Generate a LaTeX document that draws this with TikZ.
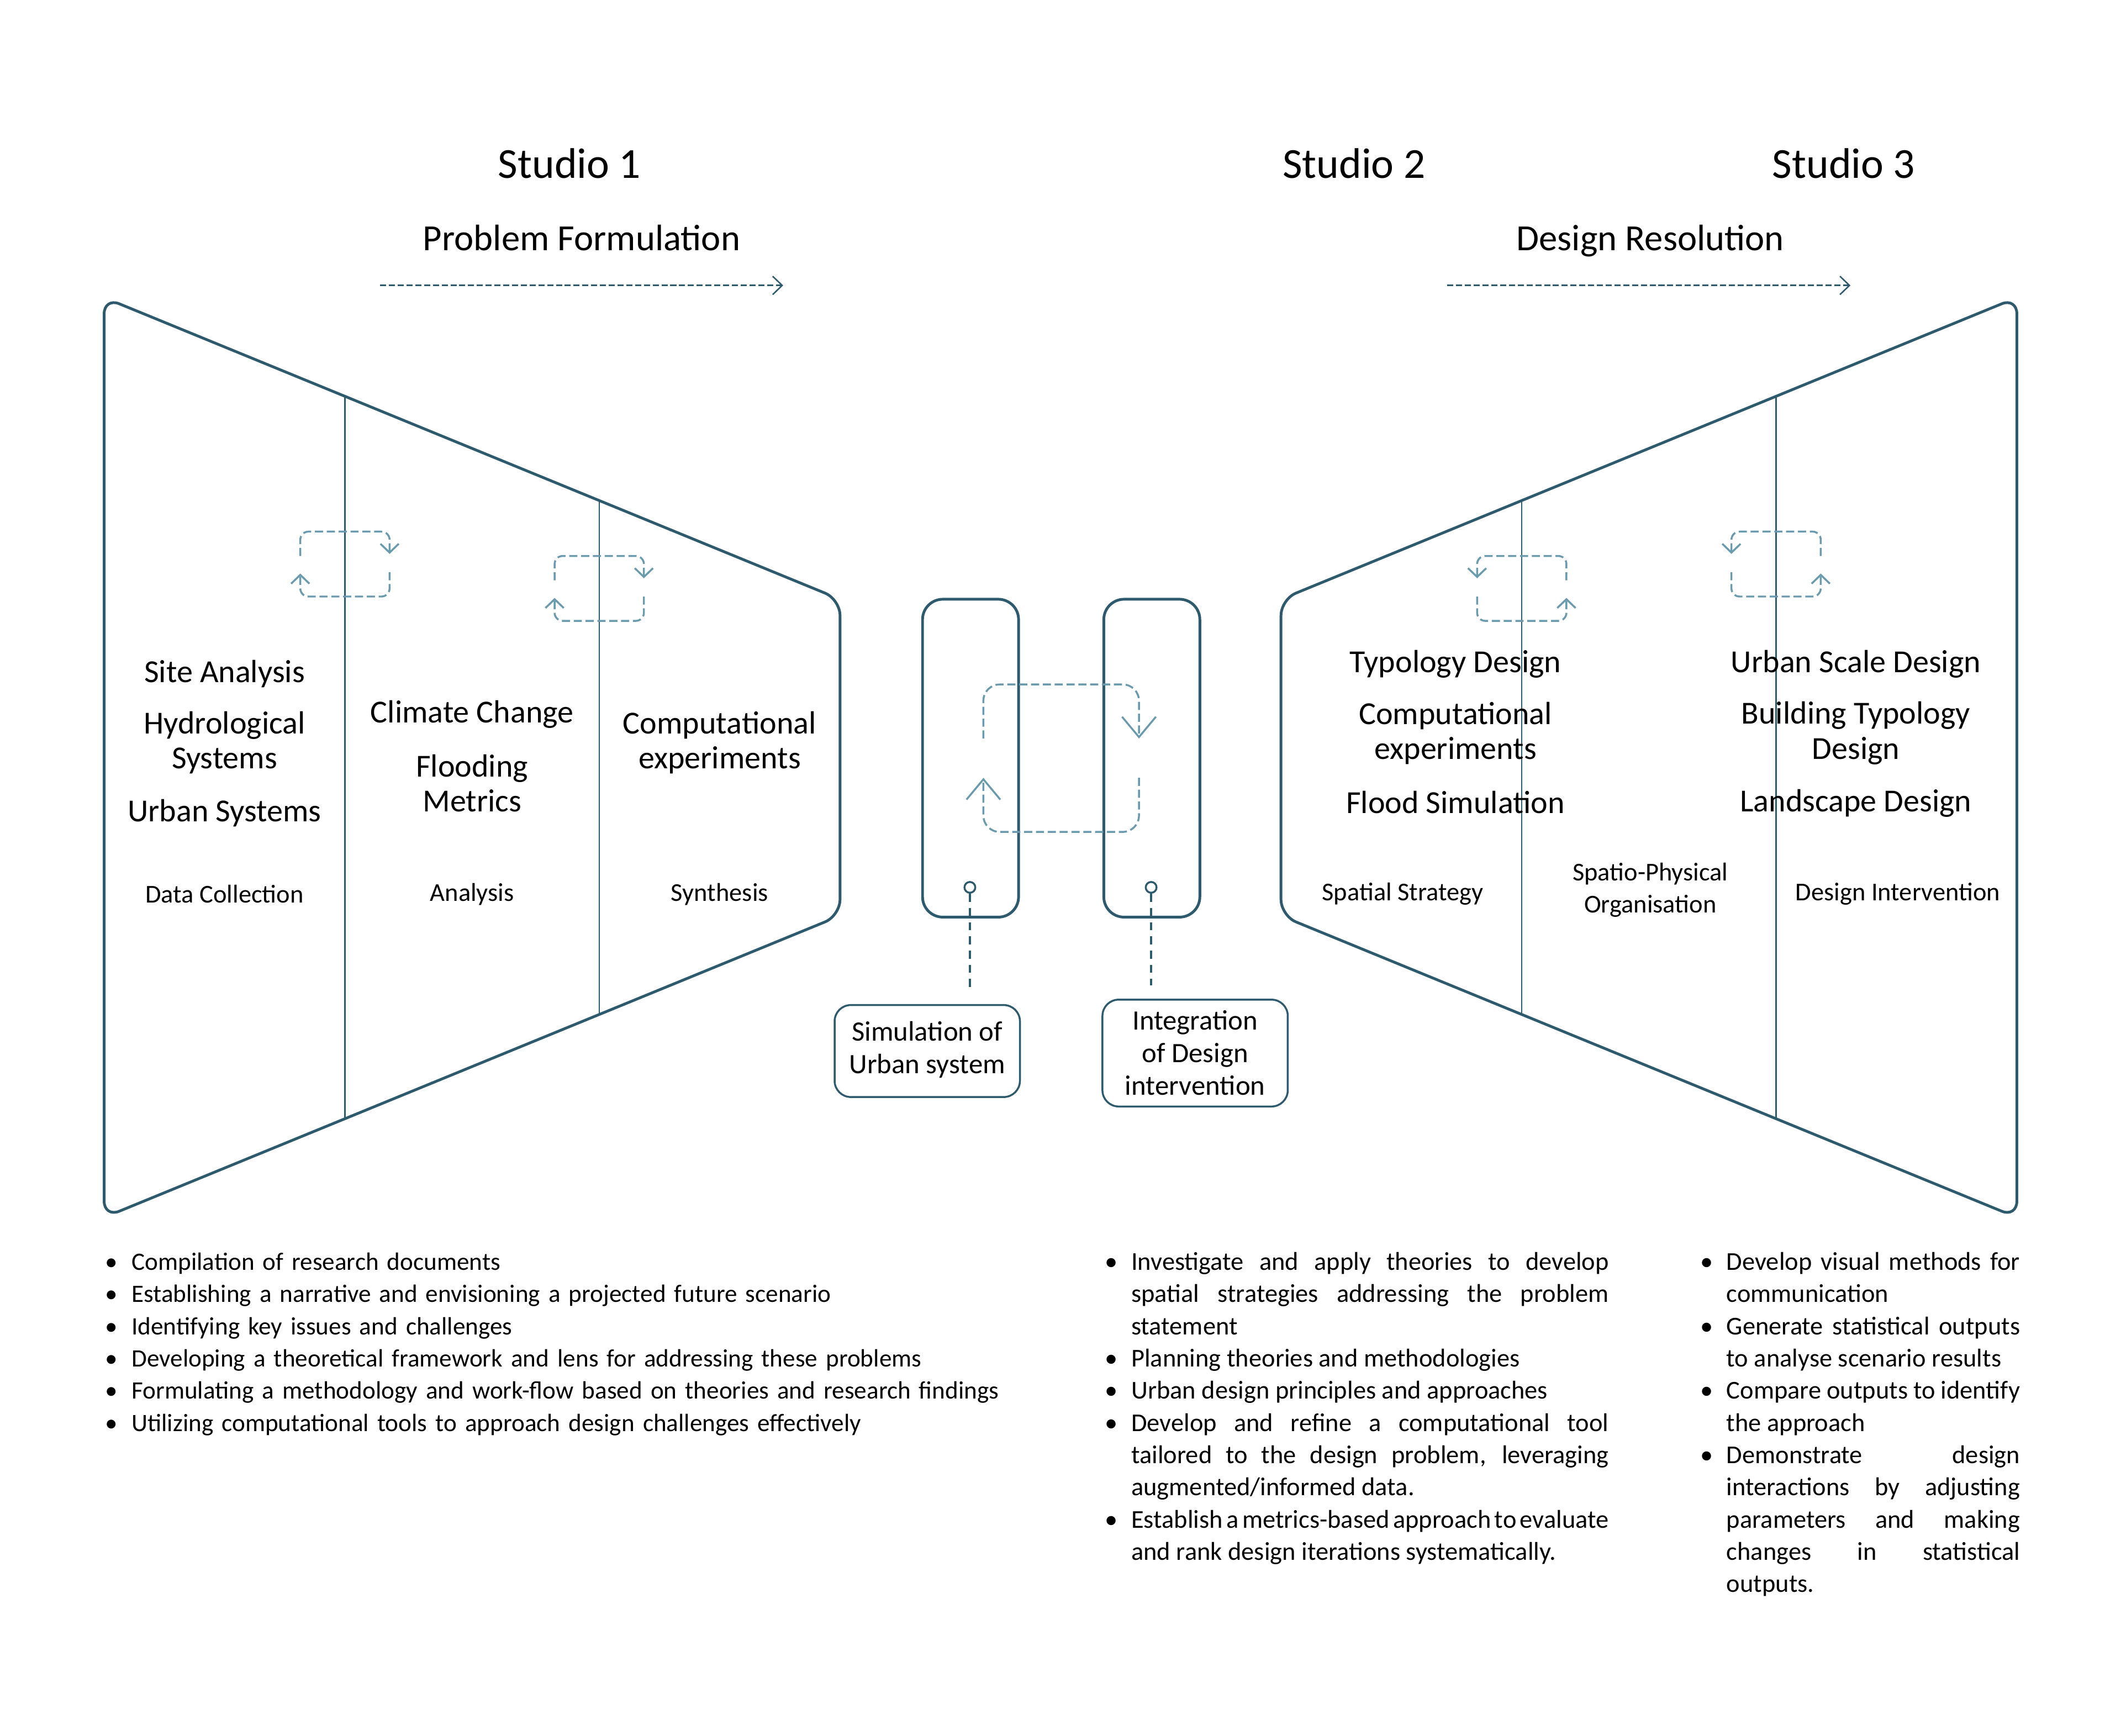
\documentclass[tikz,border=0pt]{standalone}
\usepackage{fontspec}
\setmainfont{Carlito}
\usetikzlibrary{arrows.meta, positioning, calc}

\definecolor{frameblue}{HTML}{2E5A6E}
\definecolor{loopblue}{HTML}{6A9AAE}

% one bullet point with hanging indent
\newcommand\bulletitem[1]{\hangindent=3.9mm\hangafter=1\makebox[3.9mm][l]{\textbullet}#1\par}
\newcommand\listsetup{\fontsize{10.8}{13.55}\selectfont\tolerance=9999 \hyphenpenalty=10000 \spaceskip=0.226em plus 1em minus 0.12em\relax}

\begin{document}
\begin{tikzpicture}[
    x=0.2mm, y=-0.2mm,
    every node/.style={inner sep=0pt},
    outline/.style={frameblue, line width=1.15pt, rounded corners=2.4mm},
    divider/.style={frameblue, line width=0.6pt},
    cycleflow/.style={loopblue, line width=0.8pt, dash pattern=on 1.2mm off 0.55mm, rounded corners=1.2mm, -{Straight Barb[length=1.3mm, width=2.7mm]}},
    bigflow/.style={cycleflow, rounded corners=2.4mm, -{Straight Barb[length=3mm, width=5mm]}},
    flowline/.style={frameblue, line width=0.6pt, dash pattern=on 0.9mm off 0.4mm, -{Straight Barb[length=1.4mm, width=2.7mm]}},
    studiohead/.style={font=\fontsize{18}{22}\selectfont},
    phasehead/.style={font=\fontsize{15.5}{19}\selectfont},
    topictext/.style={font=\fontsize{13.5}{14.8}\selectfont, align=center},
    stagetext/.style={font=\fontsize{10.8}{13.6}\selectfont, align=center},
    colbox/.style={draw=frameblue, line width=1.15pt, rounded corners=3mm, minimum width=14.2mm, minimum height=47mm},
    probe/.style={circle, draw=frameblue, line width=0.8pt, fill=white, minimum size=1.6mm},
    tether/.style={frameblue, line width=0.8pt, dash pattern=on 1.2mm off 0.9mm, shorten >=2mm},
    labelbox/.style={draw=frameblue, line width=0.8pt, rounded corners=2.4mm, align=center, font=\fontsize{11.8}{13.7}\selectfont, minimum width=27.4mm},
    tasks/.style={anchor=base west, font=\listsetup}
  ]

    \useasboundingbox (0,0) rectangle (1568,1283);

    % Headings
    \node[studiohead] (s1) at (421,121) {Studio 1};
    \node[studiohead] (s2) at (1001,121) {Studio 2};
    \node[studiohead] (s3) at (1363,121) {Studio 3};
    \node[phasehead] (pf) at (430,176) {Problem Formulation};
    \node[phasehead] (dr) at (1220,178) {Design Resolution};

    \coordinate (pfFrom) at (281,211);
    \coordinate (pfTo) at (579,211);
    \coordinate (drFrom) at (1070,211);
    \coordinate (drTo) at (1368,211);
    \draw[flowline] (pfFrom) -- (pfTo);
    \draw[flowline] (drFrom) -- (drTo);

    % Funnel outlines
    \draw[outline] (77,220) -- (621,443) -- (621,677) -- (77,900) -- cycle;
    \draw[outline] (1491,220) -- (947,443) -- (947,677) -- (1491,900) -- cycle;

    % Dividers
    \foreach \x/\t in {255/293, 443/370, 1125/370, 1313/293} {
      \draw[divider] (\x,\t) -- (\x,{1120-\t});
    }

    % Iteration loops (d=1 clockwise, d=-1 mirrored)
    \foreach \cx/\cy/\d in {255/417/1, 443/435/1, 1125/435/-1, 1313/417/-1} {
      \draw[cycleflow] ({\cx-33*(\d)},{\cy-6}) -- ({\cx-33*(\d)},{\cy-24}) -- ({\cx+33*(\d)},{\cy-24}) -- ({\cx+33*(\d)},{\cy-7.5});
      \draw[cycleflow] ({\cx+33*(\d)},{\cy+6}) -- ({\cx+33*(\d)},{\cy+24}) -- ({\cx-33*(\d)},{\cy+24}) -- ({\cx-33*(\d)},{\cy+7});
    }

    % Studio 1 contents
    \node[topictext] (site) at (166,498) {Site Analysis};
    \node[topictext] (hydro) at (166,549) {Hydrological\\Systems};
    \node[topictext] (urban) at (166,601) {Urban Systems};
    \node[stagetext] (collect) at (166,661) {Data Collection};
    \node[topictext] (climate) at (349,528) {Climate Change};
    \node[topictext] (flood) at (349,579) {Flooding\\Metrics};
    \node[stagetext] (analysis) at (349,661) {Analysis};
    \node[topictext] (compL) at (532,549) {Computational\\experiments};
    \node[stagetext] (synth) at (532,661) {Synthesis};

    % Studio 2 and 3 contents
    \node[topictext] (typo) at (1076,491) {Typology Design};
    \node[topictext] (compR) at (1076,542) {Computational\\experiments};
    \node[topictext] (fsim) at (1076,593) {Flood Simulation};
    \node[stagetext] (spatial) at (1037,661) {Spatial Strategy};
    \node[stagetext] (spatio) at (1220,658) {Spatio-Physical\\Organisation};
    \node[topictext] (uscale) at (1372,491) {Urban Scale Design};
    \node[topictext] (btypo) at (1372,542) {Building Typology\\Design};
    \node[topictext] (land) at (1372,594) {Landscape Design};
    \node[stagetext] (interv) at (1403,661) {Design Intervention};

    % Studio 2 columns
    \node[colbox] (simcol) at (717.5,560.5) {};
    \node[colbox] (intcol) at (851.5,560.5) {};
    \draw[bigflow] (727,546) -- (727,506) -- (842,506) -- (842,546);
    \draw[bigflow] (842,575) -- (842,615) -- (727,615) -- (727,575);

    \node[probe] (pinA) at (717,656) {};
    \node[probe] (pinB) at (851,656) {};
    \node[labelbox, minimum height=13.6mm, text depth=0.6ex] (simlabel) at (685.5,777) {Simulation of\\Urban system};
    \node[labelbox, minimum height=15.8mm] (intlabel) at (883.5,778.5) {Integration\\of Design\\intervention};
    \draw[tether] (pinA) -- (pinA |- simlabel.north);
    \draw[tether] (pinB) -- (pinB |- intlabel.north);

    % Task lists
    \node[tasks, text width=150mm, align=left, font=\listsetup\fontsize{10.5}{13.55}\selectfont] (listA) at (77.5,939) {%
      \bulletitem{Compilation of research documents}
      \bulletitem{Establishing a narrative and envisioning a projected future scenario}
      \bulletitem{Identifying key issues and challenges}
      \bulletitem{Developing a theoretical framework and lens for addressing these problems}
      \bulletitem{Formulating a methodology and work-flow based on theories and research findings}
      \bulletitem{Utilizing computational tools to approach design challenges effectively}};

    \node[tasks, text width=74.5mm, align=justify] (listB) at (816.5,939) {%
      \bulletitem{Investigate and apply theories to develop\linebreak spatial strategies addressing the problem\linebreak statement}
      \bulletitem{Planning theories and methodologies}
      \bulletitem{Urban design principles and approaches}
      \bulletitem{Develop and refine a computational tool\linebreak tailored to the design problem, leveraging\linebreak augmented/informed data.}
      \bulletitem{Establish a metrics-based approach to evaluate\linebreak and rank design iterations systematically.}};

    \node[tasks, text width=47.3mm, align=justify] (listC) at (1256.5,939) {%
      \bulletitem{Develop visual methods for\linebreak communication}
      \bulletitem{Generate statistical outputs\linebreak to analyse scenario results}
      \bulletitem{Compare outputs to identify\linebreak the approach}
      \bulletitem{Demonstrate design\linebreak interactions by adjusting\linebreak parameters and making\linebreak changes in statistical\linebreak outputs.}};

\end{tikzpicture}
\end{document}
